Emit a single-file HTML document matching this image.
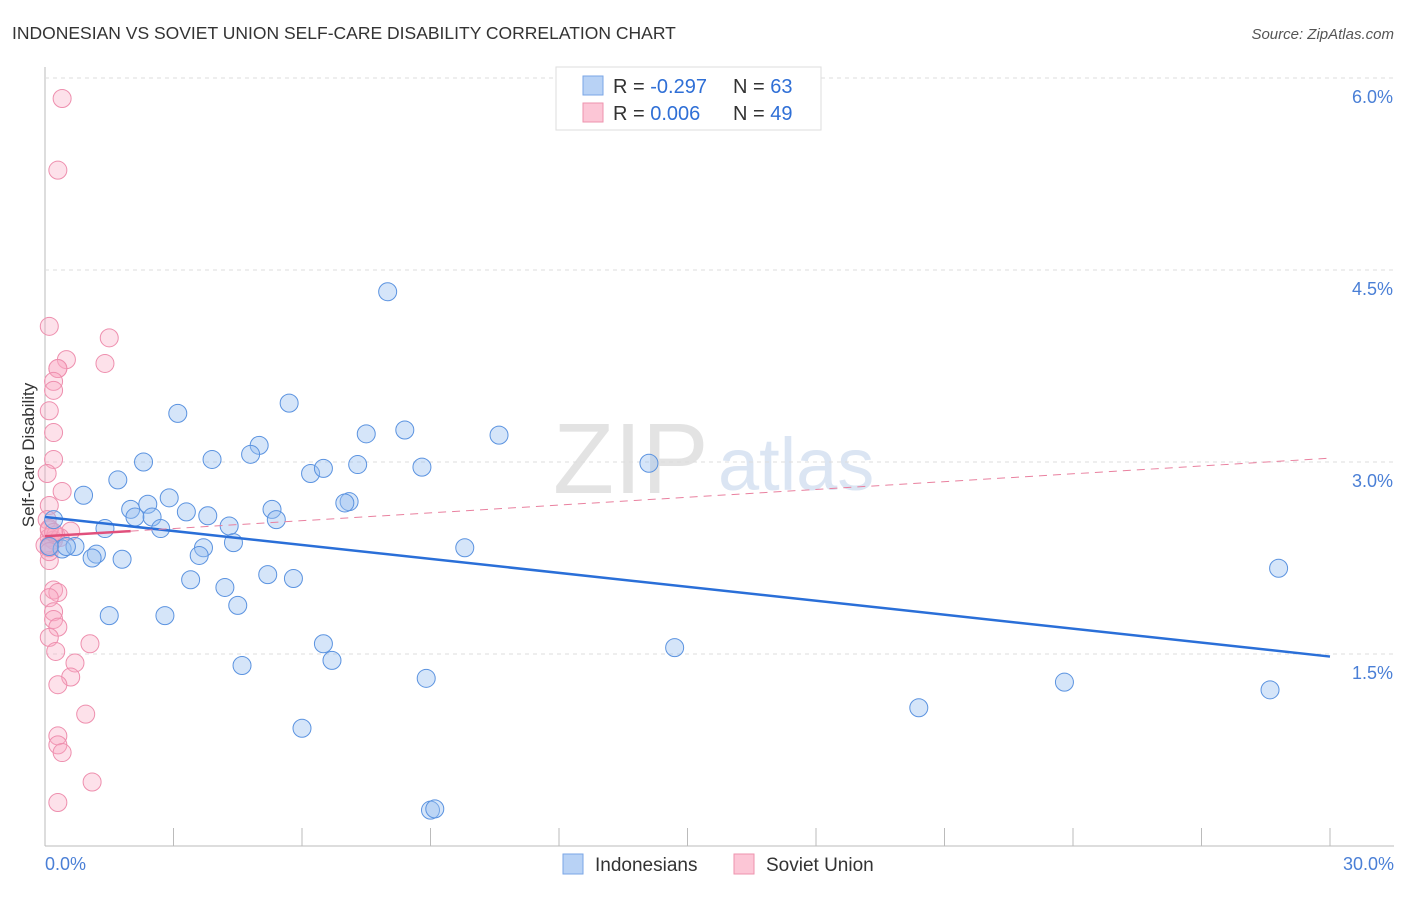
<!DOCTYPE html>
<html><head><meta charset="utf-8"><style>
body{margin:0;background:#fff;font-family:"Liberation Sans",sans-serif}
svg text{font-family:"Liberation Sans",sans-serif}
</style></head><body>
<svg id="c" width="1406" height="892">
<text x="12" y="39" font-size="17.5" fill="#333">INDONESIAN VS SOVIET UNION SELF-CARE DISABILITY CORRELATION CHART</text>
<text x="1394" y="39" font-size="15" fill="#555" font-style="italic" text-anchor="end">Source: ZipAtlas.com</text>
<text x="553" y="493" font-size="100" fill="#e3e3e3" font-family="Liberation Serif">ZIP</text>
<text x="718" y="490" font-size="74" fill="#dbe5f3">atlas</text>
<g id="grid"></g><g id="pts"></g><g id="lines"></g>
<text transform="translate(34,455) rotate(-90)" font-size="17" fill="#333" text-anchor="middle">Self-Care Disability</text>
<g>
<rect x="556" y="67" width="265" height="63" fill="#fff" stroke="#ddd"/>
<rect x="583" y="76" width="20" height="19" fill="#b8d2f5" stroke="#7aa6e6"/>
<rect x="583" y="103" width="20" height="19" fill="#fcc6d6" stroke="#ee93ae"/>
<text x="613" y="93" font-size="20" fill="#333">R = <tspan fill="#2f6fd6">-0.297</tspan></text>
<text x="733" y="93" font-size="20" fill="#333">N = <tspan fill="#2f6fd6">63</tspan></text>
<text x="613" y="120" font-size="20" fill="#333">R = <tspan fill="#2f6fd6"> 0.006</tspan></text>
<text x="733" y="120" font-size="20" fill="#333">N = <tspan fill="#2f6fd6">49</tspan></text>
</g>
<g>
<rect x="563" y="854" width="20" height="20" fill="#b8d2f5" stroke="#7aa6e6"/>
<text x="595" y="871" font-size="19" fill="#333">Indonesians</text>
<rect x="734" y="854" width="20" height="20" fill="#fcc6d6" stroke="#ee93ae"/>
<text x="766" y="871" font-size="19" fill="#333">Soviet Union</text>
</g>
</svg>
<script>
const yTicks=[1.5,3.0,4.5,6.0];
const yTickLabels=["1.5%","3.0%","4.5%","6.0%"];
const xTickLabels=["0.0%","30.0%"];
const blueX=[8.0,3.1,5.7,5.0,3.9,4.8,2.3,7.5,8.4,10.6,14.1,6.2,6.5,7.3,8.8,1.7,0.9,2.9,2.4,2.0,3.3,2.1,2.5,3.8,5.3,5.4,4.3,2.7,1.4,7.1,7.0,4.4,3.7,3.6,9.8,0.2,0.4,0.7,0.5,1.2,1.1,1.8,3.4,5.2,5.8,4.2,4.5,1.5,2.8,6.5,6.7,4.6,8.9,14.7,6.0,9.0,9.1,20.4,23.8,28.6,28.8,0.1];
const blueY=[4.33,3.38,3.46,3.13,3.02,3.06,3.00,3.22,3.25,3.21,2.99,2.91,2.95,2.98,2.96,2.86,2.74,2.72,2.67,2.63,2.61,2.57,2.57,2.58,2.63,2.55,2.50,2.48,2.48,2.69,2.68,2.37,2.33,2.27,2.33,2.55,2.32,2.34,2.34,2.28,2.25,2.24,2.08,2.12,2.09,2.02,1.88,1.80,1.80,1.58,1.45,1.41,1.31,1.55,0.92,0.28,0.29,1.08,1.28,1.22,2.17,2.34];
const pinkX=[0.4,0.3,0.1,1.5,0.5,0.3,0.3,1.4,0.2,0.2,0.1,0.2,0.2,0.05,0.4,0.1,0.05,0.1,0.6,0.1,0.2,0.1,0.1,0.2,0.3,0.1,0.2,0.2,0.3,0.1,1.05,0.25,0.7,0.6,0.3,0.95,0.3,0.3,0.4,1.1,0.3,0.2,0.25,0.35,0.0,0.1,0.1,0.1,0.2];
const pinkY=[5.84,5.28,4.06,3.97,3.80,3.73,3.73,3.77,3.63,3.56,3.40,3.23,3.02,2.91,2.77,2.66,2.55,2.47,2.46,2.41,2.39,2.35,2.23,2.00,1.98,1.94,1.83,1.77,1.71,1.63,1.58,1.52,1.43,1.32,1.26,1.03,0.86,0.79,0.73,0.50,0.34,2.39,2.43,2.41,2.35,2.48,2.33,2.30,2.45];
const blueTrend=[[0,2.57],[30,1.48]];
const pinkTrend=[[0,2.42],[2,2.46],[30,3.03]];
const X=v=>45+v*(1285/30), Y=v=>846-v*128;
const NS="http://www.w3.org/2000/svg";
function mk(t,a,p){const e=document.createElementNS(NS,t);for(const k in a)e.setAttribute(k,a[k]);p.appendChild(e);return e;}
const svg=document.getElementById('c'),grid=document.getElementById('grid'),pts=document.getElementById('pts'),lines=document.getElementById('lines');
let ax=mk('line',{x1:45,y1:67,x2:45,y2:846,stroke:'#bbb'},grid);


let bx=mk('line',{x1:45,y1:846,x2:1394,y2:846,stroke:'#bbb'},grid);


yTicks.forEach((v,i)=>{
 let g=mk('line',{x1:45,x2:1394,y1:Y(v),y2:Y(v),stroke:'#ddd','stroke-dasharray':'4,4'},grid);
 
 
 let t=mk('text',{x:1393,y:Y(v)+25,'font-size':18,fill:'#4a7fd6','text-anchor':'end'},grid);t.textContent=yTickLabels[i];
 
 
});
for(let i=1;i<=10;i++){let t=mk('line',{x1:X(i*3),x2:X(i*3),y1:828,y2:846,stroke:'#bbb'},grid);
 
 }
[[0,45,'start'],[30,1394,'end']].forEach((d,i)=>{let t=mk('text',{x:d[1],y:870,'font-size':18,fill:'#4a7fd6','text-anchor':d[2]},grid);t.textContent=xTickLabels[i];
 
 });
pinkX.forEach((x,i)=>{let c=mk('circle',{cx:X(x),cy:Y(pinkY[i]),r:9,fill:'rgba(248,170,195,0.35)',stroke:'#ee8fae','stroke-width':1},pts);
 
 });
blueX.forEach((x,i)=>{let c=mk('circle',{cx:X(x),cy:Y(blueY[i]),r:9,fill:'rgba(150,190,240,0.4)',stroke:'#5b93e0','stroke-width':1},pts);
 
 });
let bl=mk('line',{x1:X(blueTrend[0][0]),y1:Y(blueTrend[0][1]),x2:X(blueTrend[1][0]),y2:Y(blueTrend[1][1]),stroke:'#2a6fd8','stroke-width':2.5},lines);


let pd=mk('line',{x1:X(pinkTrend[1][0]),y1:Y(pinkTrend[1][1]),x2:X(pinkTrend[2][0]),y2:Y(pinkTrend[2][1]),stroke:'#e9809f','stroke-width':1,'stroke-dasharray':'8,6'},lines);


let ps=mk('line',{x1:X(pinkTrend[0][0]),y1:Y(pinkTrend[0][1]),x2:X(pinkTrend[1][0]),y2:Y(pinkTrend[1][1]),stroke:'#e0507c','stroke-width':2.5},lines);


</script>
</body></html>
